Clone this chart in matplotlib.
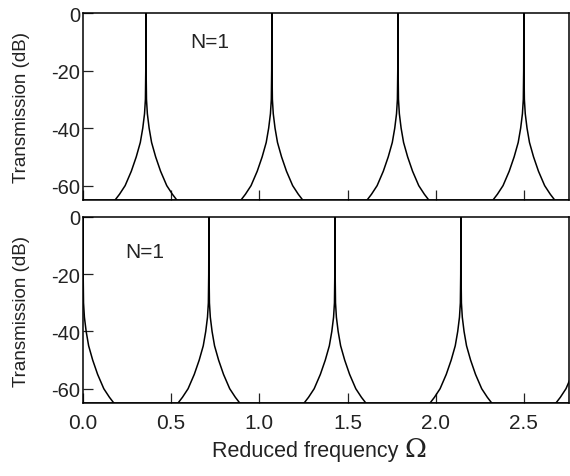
import matplotlib.pyplot as plt
import numpy as np

# Peak profile: offset from a peak centre vs. dB
peak_offset = [0.0, 0.001, 0.003, 0.008, 0.018, 0.032, 0.055, 0.083, 0.118, 0.150, 0.175]
peak_db = [0, -20, -30, -35, -40, -45, -50, -55, -60, -63, -65]

# Peak centres (reduced frequency) for each panel
top_peaks = [0.357, 1.071, 1.786, 2.500]
bottom_peaks = [0.0, 0.714, 1.429, 2.143, 2.857]

x_ticks = [0.0, 0.5, 1.0, 1.5, 2.0, 2.5]
y_ticks = [0, -20, -40, -60]

plt.rcParams['font.family'] = ['Liberation Sans', 'DejaVu Sans']
plt.rcParams['axes.unicode_minus'] = False

text_col = '#222222'


def draw_peaks(ax, centres):
    off = np.array(peak_offset)
    db = np.array(peak_db)
    for c in centres:
        x = np.concatenate([c - off[::-1], c + off[1:]])
        y = np.concatenate([db[::-1], db[1:]])
        ax.plot(x, y, color='black', lw=1.1, solid_joinstyle='round')
    ax.axhline(-65, color='black', lw=1.1)


def style_axes(ax):
    ax.set_xlim(0, 2.754)
    ax.set_ylim(-65, 0)
    ax.set_xticks(x_ticks)
    ax.set_yticks(y_ticks)
    ax.tick_params(direction='in', length=7, width=0.9, top=False, right=False,
                   colors=text_col)
    ax.tick_params(axis='y', labelsize=14.5, pad=2)
    for s in ax.spines.values():
        s.set_linewidth(1.1)
    ax.set_ylabel('Transmission (dB)', fontsize=13.5, color=text_col)
    ax.yaxis.set_label_coords(-0.11, 0.5)


fig = plt.figure(figsize=(5.70, 4.77), dpi=100)
ax1 = fig.add_axes([0.1456, 0.5786, 0.852, 0.392])
ax2 = fig.add_axes([0.1456, 0.153, 0.852, 0.390])

draw_peaks(ax1, top_peaks)
draw_peaks(ax2, bottom_peaks)
style_axes(ax1)
style_axes(ax2)

ax1.tick_params(labelbottom=False)
ax2.tick_params(axis='x', labelsize=15, pad=7)

ax1.text(0.606, -9.8, 'N=1', fontsize=15, va='center', color=text_col)
ax2.text(0.238, -12.2, 'N=1', fontsize=15, va='center', color=text_col)

# x label: plain text followed by a larger serif Omega
lbl = fig.text(0.372, 0.042, 'Reduced frequency ', fontsize=15.5,
               color=text_col, ha='left', va='baseline')
fig.canvas.draw()
bb = lbl.get_window_extent().transformed(fig.transFigure.inverted())
fig.text(bb.x1, 0.042, '\u03a9', fontsize=19, family='DejaVu Serif',
         color=text_col, ha='left', va='baseline')

fig.savefig('out.png', dpi=100)
